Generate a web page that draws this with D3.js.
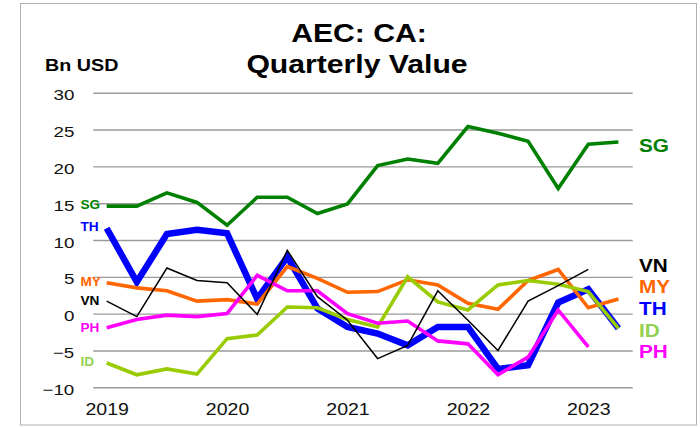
<!DOCTYPE html>
<html>
<head>
<meta charset="utf-8">
<script src="https://cdn.jsdelivr.net/npm/d3@7"></script>
<style>
  html, body { margin: 0; padding: 0; background: #fff; }
  svg { display: block; font-family: "Liberation Sans", Arial, sans-serif; }
</style>
</head>
<body>
<svg id="chart" width="700" height="427"></svg>
<script>
// ---- Data ----
const quarters = ["2019Q1","2019Q2","2019Q3","2019Q4","2020Q1","2020Q2","2020Q3","2020Q4",
                  "2021Q1","2021Q2","2021Q3","2021Q4","2022Q1","2022Q2","2022Q3","2022Q4",
                  "2023Q1","2023Q2"];
const yTicks = [-10, -5, 0, 5, 10, 15, 20, 25, 30];
const SG = [14.6,14.6,16.4,15.1,12.0,15.8,15.8,13.6,14.9,20.1,21.0,20.4,25.4,24.5,23.4,17.0,23.0,23.3];
const TH = [11.6,4.3,10.8,11.4,10.9,2.0,7.7,0.7,-1.8,-2.7,-4.3,-1.8,-1.8,-7.5,-7.0,1.5,3.3,-2.0];
const VN = [1.7,-0.4,6.2,4.5,4.2,-0.1,8.6,2.3,-0.9,-6.1,-4.3,3.1,-0.9,-5.0,1.7,3.8,6.0,null];
const MY = [4.2,3.5,3.1,1.7,1.9,1.3,6.4,4.8,2.9,3.0,4.6,3.9,1.4,0.6,4.5,6.0,0.8,2.0];
const ID = [-6.7,-8.3,-7.5,-8.2,-3.4,-2.9,0.9,0.8,-0.8,-1.8,5.0,1.6,0.5,3.9,4.5,4.0,3.0,-2.0];
const PH = [-1.9,-0.8,-0.2,-0.4,0.0,5.2,3.1,3.1,0.0,-1.3,-1.0,-3.7,-4.1,-8.3,-5.9,0.5,-4.5,null];

const seriesNames = ["TH","SG","MY","ID","PH","VN"];
const seriesValues = {SG, TH, VN, MY, ID, PH};
const lineColors = {SG:"#008000", TH:"#0000ff", VN:"#000000", MY:"#ff6600", ID:"#99cc00", PH:"#ff00ff"};
const labelColors = {SG:"#008000", TH:"#0000ff", VN:"#000000", MY:"#ff6600", ID:"#92d050", PH:"#ff00ff"};
const lineWidths = {SG:3.6, TH:6.5, VN:1.5, MY:3.6, ID:3.6, PH:3.6};
// start-of-line labels (left) and end labels (right): [baseline y]
const leftLabelY = {SG:209.3, TH:230.7, MY:286, VN:305, PH:331.7, ID:366};
const rightLabelOrder = ["SG","VN","MY","TH","ID","PH"];
const rightLabelY = {SG:152.3, VN:271.7, MY:293.3, TH:315, ID:336.7, PH:358.3};

// ---- Layout ----
const svg = d3.select("#chart");
const gridL = 93.3, gridR = 632.7;
const x = d3.scalePoint().domain(quarters).range([106.7, 618.4]);
const y = d3.scaleLinear().domain([-10, 30]).range([387.3, 92.7]);

// frame
svg.append("rect").attr("x", 20.5).attr("y", 3.5).attr("width", 676).attr("height", 421.5)
  .attr("fill", "none").attr("stroke", "#b0b0b0").attr("stroke-width", 1);

// y axis with gridlines
const sxTick = 1.25;
const yAxisG = svg.append("g").attr("transform", `translate(${gridL},0)`)
  .call(d3.axisLeft(y).tickValues(yTicks).tickSize(-(gridR - gridL)).tickFormat(d3.format("d")));
yAxisG.select(".domain").remove();
yAxisG.selectAll(".tick line").attr("stroke", "#9a9a9a").attr("stroke-width", 1.4);
yAxisG.selectAll(".tick text")
  .attr("x", -19 / sxTick).attr("dy", "7px")
  .attr("transform", `scale(${sxTick},1)`)
  .attr("fill", "#111").style("font-size", "15px").style("font-family", "'Liberation Sans', Arial, sans-serif");

// x axis (years)
const sxYear = 1.15;
const xAxisG = svg.append("g").attr("transform", `translate(0,387.3)`)
  .call(d3.axisBottom(x).tickValues(quarters.filter(q => q.endsWith("Q1")))
    .tickFormat(d => d.slice(0, 4)).tickSize(0).tickPadding(15.6));
xAxisG.select(".domain").remove();
xAxisG.selectAll(".tick text")
  .attr("transform", `scale(${sxYear},1)`)
  .attr("fill", "#111").style("font-size", "17px").style("font-family", "'Liberation Sans', Arial, sans-serif");

// lines
const line = d3.line()
  .defined(d => d.v !== null)
  .x(d => x(d.q)).y(d => y(d.v));
seriesNames.forEach(name => {
  const data = seriesValues[name].map((v, i) => ({q: quarters[i], v}));
  svg.append("path").datum(data)
    .attr("d", line)
    .attr("fill", "none")
    .attr("stroke", lineColors[name])
    .attr("stroke-width", lineWidths[name])
    .attr("stroke-linejoin", "miter")
    .attr("stroke-miterlimit", 4)
    .attr("stroke-linecap", "butt");
});

// helper for horizontally stretched text
function stretchedText(txt, px, py, size, sx, color, anchor) {
  svg.append("text")
    .attr("transform", `translate(${px},${py}) scale(${sx},1)`)
    .attr("text-anchor", anchor || "start")
    .attr("fill", color)
    .style("font-size", size + "px")
    .style("font-weight", "bold")
    .text(txt);
}

// title & unit
stretchedText("AEC: CA:", 359, 41.7, 26, 1.16, "#000", "middle");
stretchedText("Quarterly Value", 357, 72.7, 26, 1.16, "#000", "middle");
stretchedText("Bn USD", 45, 70.7, 17, 1.16, "#000", "start");

// left labels
Object.keys(leftLabelY).forEach(name => {
  stretchedText(name, 80.5, leftLabelY[name], 13, 1.05, labelColors[name], "start");
});
// right labels
rightLabelOrder.forEach(name => {
  stretchedText(name, 639, rightLabelY[name], 18.5, 1.12, labelColors[name], "start");
});
</script>
</body>
</html>
